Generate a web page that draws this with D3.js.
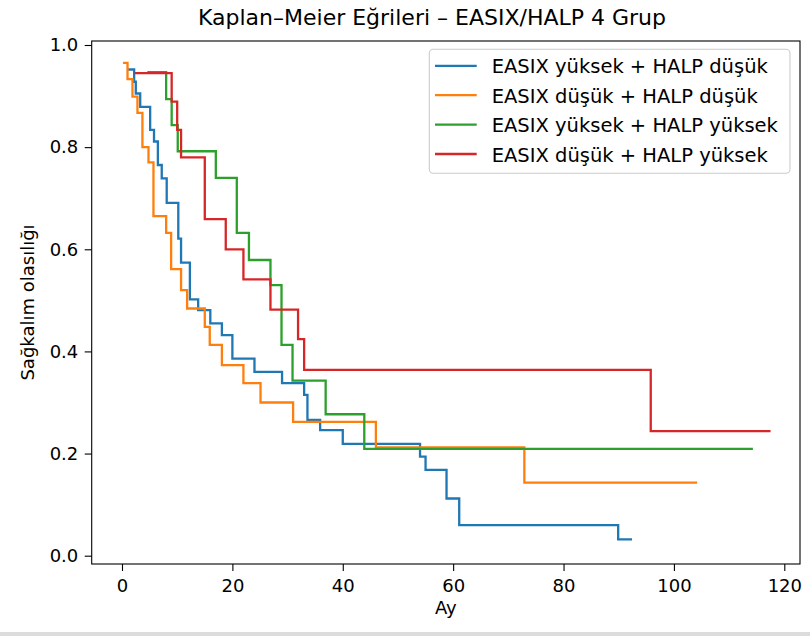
<!DOCTYPE html>
<html>
<head>
<meta charset="utf-8">
<script src="https://cdn.jsdelivr.net/npm/d3@7"></script>
<style>
  body { margin: 0; background: #fff; }
  svg { display: block; font-family: "DejaVu Sans", sans-serif; }
</style>
</head>
<body>
<div id="chart"></div>
<script>
// Group labels (legend order = drawing order)
var groupLabels = [
    "EASIX yüksek + HALP düşük",
    "EASIX düşük + HALP düşük",
    "EASIX yüksek + HALP yüksek",
    "EASIX düşük + HALP yüksek"
];
var groupColors = ["#1f77b4", "#ff7f0e", "#2ca02c", "#d62728"];

// Step times (months) and survival after each step, last entry = end of follow-up
var highLowTimes = [1.3, 2.2, 2.5, 3.3, 5.1, 5.8, 6.5, 7.2, 8.1, 10.2, 10.7, 12.3, 13.8, 16.0, 18.1, 20.0, 24.0, 29.0, 33.0, 33.6, 35.9, 40.0, 54.0, 55.0, 58.8, 61.1, 89.9, 92.2];
var highLowSurv  = [0.952, 0.928, 0.905, 0.879, 0.834, 0.811, 0.765, 0.739, 0.691, 0.621, 0.574, 0.502, 0.481, 0.455, 0.432, 0.386, 0.360, 0.338, 0.315, 0.266, 0.246, 0.219, 0.194, 0.168, 0.112, 0.060, 0.032, 0.032];

var lowLowTimes = [0.4, 1.0, 1.9, 2.8, 3.7, 4.8, 5.7, 8.0, 8.9, 10.7, 11.8, 15.0, 15.9, 18.1, 22.0, 25.1, 31.0, 46.0, 72.9, 104.0];
var lowLowSurv  = [0.965, 0.933, 0.899, 0.867, 0.800, 0.770, 0.665, 0.632, 0.561, 0.520, 0.484, 0.448, 0.413, 0.373, 0.338, 0.300, 0.262, 0.212, 0.143, 0.143];

var highHighTimes = [4.8, 8.0, 9.0, 10.1, 17.0, 20.8, 23.0, 26.9, 28.9, 30.9, 36.9, 43.9, 114.1];
var highHighSurv  = [0.947, 0.894, 0.843, 0.792, 0.740, 0.632, 0.579, 0.530, 0.413, 0.343, 0.277, 0.209, 0.209];

var lowHighTimes = [2.5, 9.0, 10.0, 10.7, 15.0, 18.8, 22.0, 26.9, 31.9, 33.0, 95.8, 117.3];
var lowHighSurv  = [0.945, 0.889, 0.834, 0.780, 0.659, 0.600, 0.541, 0.482, 0.424, 0.364, 0.244, 0.244];

var xTicks = [0, 20, 40, 60, 80, 100, 120];
var yTicks = [0.0, 0.2, 0.4, 0.6, 0.8, 1.0];

var width = 810, height = 640;
var frame = { left: 91.7, right: 800, top: 41, bottom: 564 };

var svg = d3.select("#chart")
    .append("svg")
    .attr("width", width)
    .attr("height", height);

svg.append("rect")
    .attr("width", width)
    .attr("height", height)
    .attr("fill", "#fff");

// Scales
var x = d3.scaleLinear().domain([0, 120]).range([122, 784.3]);
var y = d3.scaleLinear().domain([0, 1]).range([555.7, 45]);

// Curves
var series = [
    { times: highLowTimes, surv: highLowSurv },
    { times: lowLowTimes, surv: lowLowSurv },
    { times: highHighTimes, surv: highHighSurv },
    { times: lowHighTimes, surv: lowHighSurv }
];

var line = d3.line()
    .x(d => x(d[0]))
    .y(d => y(d[1]))
    .curve(d3.curveStepAfter);

series.forEach(function (s, i) {
    var pts = s.times.map((t, j) => [t, s.surv[j]]);
    svg.append("path")
        .datum(pts)
        .attr("d", line)
        .attr("fill", "none")
        .attr("stroke", groupColors[i])
        .attr("stroke-width", 2.3)
        .attr("stroke-linejoin", "miter")
        .attr("stroke-linecap", "square");
});

// Axes
var xAxis = svg.append("g")
    .attr("transform", "translate(0," + frame.bottom + ")")
    .call(d3.axisBottom(x).tickValues(xTicks).tickFormat(d3.format("d"))
        .tickSize(7).tickSizeOuter(0).tickPadding(8.5));

var yAxis = svg.append("g")
    .attr("transform", "translate(" + frame.left + ",0)")
    .call(d3.axisLeft(y).tickValues(yTicks).tickFormat(d3.format(".1f"))
        .tickSize(7).tickSizeOuter(0).tickPadding(6.4));

[xAxis, yAxis].forEach(function (g) {
    g.select(".domain").remove();
    g.selectAll(".tick line").attr("stroke", "#000").attr("stroke-width", 1.1);
    g.selectAll(".tick text")
        .attr("fill", "#000")
        .style("font-size", "18px")
        .style("font-family", "DejaVu Sans");
});

// Axes frame
svg.append("rect")
    .attr("x", frame.left)
    .attr("y", frame.top)
    .attr("width", frame.right - frame.left)
    .attr("height", frame.bottom - frame.top)
    .attr("fill", "none")
    .attr("stroke", "#000")
    .attr("stroke-width", 1.1);

// Labels
svg.append("text")
    .attr("x", 432)
    .attr("y", 25)
    .attr("text-anchor", "middle")
    .style("font-size", "22px")
    .text("Kaplan–Meier Eğrileri – EASIX/HALP 4 Grup");

svg.append("text")
    .attr("x", (frame.left + frame.right) / 2)
    .attr("y", 614)
    .attr("text-anchor", "middle")
    .style("font-size", "18px")
    .text("Ay");

svg.append("text")
    .attr("transform", "translate(34," + ((frame.top + frame.bottom) / 2) + ") rotate(-90)")
    .attr("text-anchor", "middle")
    .style("font-size", "18px")
    .text("Sağkalım olasılığı");

// Legend
var legend = svg.append("g");
legend.append("rect")
    .attr("x", 429.3)
    .attr("y", 49.3)
    .attr("width", 360.7)
    .attr("height", 124)
    .attr("rx", 4)
    .attr("fill", "#fff")
    .attr("fill-opacity", 0.8)
    .attr("stroke", "#cccccc")
    .attr("stroke-width", 1.1);

var rowY = d3.scalePoint().domain(d3.range(groupLabels.length)).range([73.3, 161.5]);

groupLabels.forEach(function (label, i) {
    legend.append("line")
        .attr("x1", 435)
        .attr("x2", 476.7)
        .attr("y1", rowY(i) - 7.5)
        .attr("y2", rowY(i) - 7.5)
        .attr("stroke", groupColors[i])
        .attr("stroke-width", 2.3);
    legend.append("text")
        .attr("x", 491.7)
        .attr("y", rowY(i))
        .style("font-size", "19.5px")
        .text(label);
});

// thin grey strip along the bottom edge of the image
svg.append("rect")
    .attr("x", 0)
    .attr("y", 632)
    .attr("width", width)
    .attr("height", 4)
    .attr("fill", "#dcdcdc");
</script>
</body>
</html>
